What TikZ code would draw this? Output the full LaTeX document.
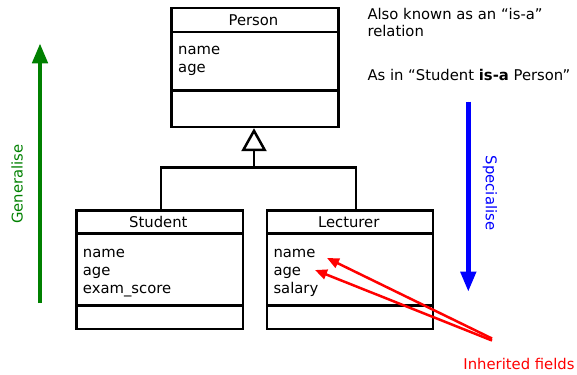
\documentclass[tikz,border=0pt]{standalone}
\usepackage{fontspec}
\setmainfont{DejaVu Sans}
\usetikzlibrary{arrows.meta}
\begin{document}
\begin{tikzpicture}[x=1pt,y=-1pt,
  every node/.style={font=\fontsize{14.8}{18}\selectfont, inner sep=0pt},
  comp/.style={draw, line width=2.5pt, anchor=north west, inner sep=0pt},
  fld/.style={anchor=base west},
  hdr/.style={anchor=base},
  gen/.style={line width=2.5pt, -{Triangle[open,length=23pt,width=25pt]}},
  redarr/.style={draw=red, line width=2.5pt, -{Triangle[length=12pt,width=10pt]}},
  bigarr/.style={line width=4.5pt, -{Triangle[length=20pt,width=15pt]}}]
\useasboundingbox (0,0) rectangle (577,374);
% Person
\node[comp, minimum width=167pt, minimum height=24pt] (personH) at (170,6.7) {};
\node[comp, minimum width=167pt, minimum height=58.6pt] (personA) at (170,30.7) {};
\node[comp, minimum width=167pt, minimum height=36.4pt] (personM) at (170,89.3) {};
\node[hdr] (personT) at (253.5,26) {Person};
\node[fld] (pname) at (178,55) {name};
\node[fld] (page) at (178,73) {age};
% Student
\node[comp, minimum width=166.7pt, minimum height=22.7pt] (studentH) at (75,209.3) {};
\node[comp, minimum width=166.7pt, minimum height=72.3pt] (studentA) at (75,232) {};
\node[comp, minimum width=166.7pt, minimum height=23.4pt] (studentM) at (75,304.3) {};
\node[hdr] (studentT) at (158.3,227.7) {Student};
\node[fld] (sname) at (82.7,257.3) {name};
\node[fld] (sage) at (82.7,275.3) {age};
\node[fld] (sexam) at (82.7,293.3) {exam\_score};
% Lecturer
\node[comp, minimum width=166pt, minimum height=22.7pt] (lecH) at (265.7,209.3) {};
\node[comp, minimum width=166pt, minimum height=72.3pt] (lecA) at (265.7,232) {};
\node[comp, minimum width=166pt, minimum height=23.4pt] (lecM) at (265.7,304.3) {};
\node[hdr] (lecT) at (348.7,227.7) {Lecturer};
\node[fld] (lname) at (273.3,257.3) {name};
\node[fld] (lage) at (273.3,275.3) {age};
\node[fld] (lsal) at (273.3,293.3) {salary};
% generalisation connector
\coordinate (bar) at (254,167.3);
\coordinate (sj) at (161,209.3);
\coordinate (lj) at (356,209.3);
\draw[line width=2.5pt] (sj) |- (bar) -| (lj);
\draw[gen] (bar) -- (personM.south -| bar);
% notes
\node[anchor=base west] (note1) at (367.3,20) {Also known as an “is-a”};
\node[anchor=base west] (note2) at (367.3,36.5) {relation};
\node[anchor=base west] (note3) at (367.3,80.5) {As in “Student \textbf{is-a} Person”};
% generalise / specialise arrows
\coordinate (g1) at (40,303);
\coordinate (g2) at (40,43.3);
\draw[bigarr, draw=green!50!black, fill=green!50!black] (g1) -- (g2);
\node[rotate=90, text=green!50!black] (genT) at (17,184) {Generalise};
\coordinate (b1) at (468.3,101.7);
\coordinate (b2) at (468.3,291.7);
\draw[bigarr, draw=blue, fill=blue] (b1) -- (b2);
\node[rotate=-90, text=blue] (specT) at (490,193) {Specialise};
% inherited fields
\coordinate (r1) at (492,338.5);
\coordinate (r2) at (492,340.5);
\coordinate (t1) at (327,258);
\coordinate (t2) at (315,270);
\draw[redarr, fill=red] (r1) -- (t1);
\draw[redarr, fill=red] (r2) -- (t2);
\node[text=red] (inh) at (519,364) {Inherited fields};
\end{tikzpicture}
\end{document}
